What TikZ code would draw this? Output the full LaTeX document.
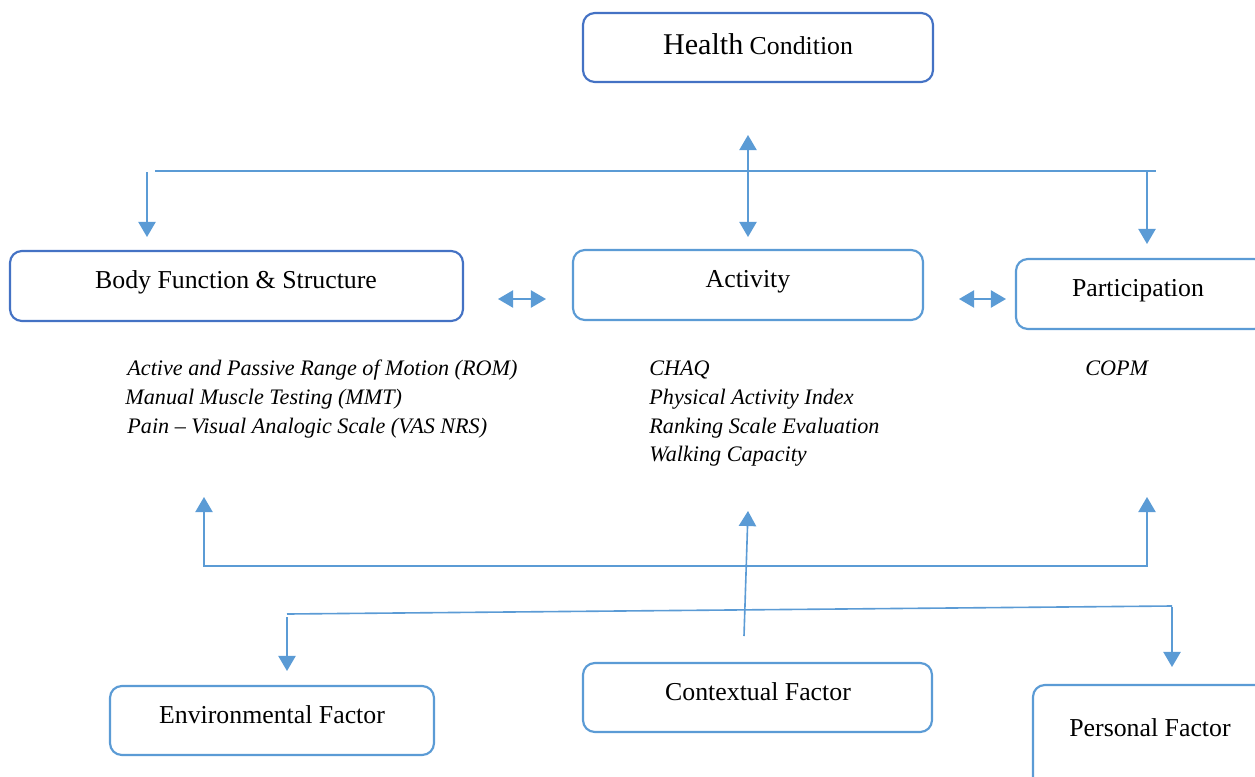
\documentclass[tikz,border=0pt]{standalone}
\usepackage{fontspec}
\setmainfont{Liberation Serif}
\usetikzlibrary{arrows.meta}
\definecolor{dblue}{HTML}{4472C4}
\definecolor{lblue}{HTML}{5B9BD5}
\begin{document}
\begin{tikzpicture}[x=0.465pt,y=-0.465pt,
  box/.style={draw=#1, rounded corners=5.5pt, line width=1pt, inner sep=0, fill=white},
  lbl/.style={font=\fontsize{12}{14}\selectfont, anchor=base, inner sep=0},
  meas/.style={font=\fontsize{10.3}{12}\selectfont\itshape, anchor=base west, inner sep=0},
  conn/.style={lblue, line width=0.75pt},
  tipend/.style={-{Triangle[width=8pt,length=7pt]}},
  tipboth/.style={{Triangle[width=8pt,length=7pt]}-{Triangle[width=8pt,length=7pt]}},
  ]
\useasboundingbox (0,0) rectangle (1255,776);

% boxes
\node[box=dblue, minimum width=350*0.465pt, minimum height=69*0.465pt] (hcbox) at (758,47.5) {};
\node[box=dblue, minimum width=453*0.465pt, minimum height=70*0.465pt] (bfbox) at (236.5,286) {};
\node[box=lblue, minimum width=350*0.465pt, minimum height=70*0.465pt] (acbox) at (748,285) {};
\node[box=lblue, minimum width=250*0.465pt, minimum height=70*0.465pt] (pabox) at (1141,294) {};
\node[box=lblue, minimum width=324*0.465pt, minimum height=69*0.465pt] (efbox) at (272,720.5) {};
\node[box=lblue, minimum width=349*0.465pt, minimum height=69*0.465pt] (ctbox) at (757.5,697.5) {};
\node[box=lblue, minimum width=240*0.465pt, minimum height=110*0.465pt] (pfbox) at (1153,740) {};

% box texts
\node[lbl] (hc) at (758,54) {{\fontsize{14}{16}\selectfont Health} Condition};
\node[lbl] (bf) at (236,288) {Body Function \& Structure};
\node[lbl] (ac) at (748,287) {Activity};
\node[lbl] (pa) at (1138,296) {Participation};
\node[lbl] (ef) at (272,723) {Environmental Factor};
\node[lbl] (ct) at (758,700) {Contextual Factor};
\node[lbl] (pf) at (1150,736) {Personal Factor};

% measures
\node[meas] (m1) at (127,375) {Active and Passive Range of Motion (ROM)};
\node[meas] (m2) at (125,404) {Manual Muscle Testing (MMT)};
\node[meas] (m3) at (127,433) {Pain -- Visual Analogic Scale (VAS NRS)};
\node[meas] (m4) at (649,375) {CHAQ};
\node[meas] (m5) at (649,404) {Physical Activity Index};
\node[meas] (m6) at (649,433) {Ranking Scale Evaluation};
\node[meas] (m7) at (649,461) {Walking Capacity};
\node[meas] (m8) at (1085,375) {COPM};

% top connectors
\coordinate (hcA) at (748,135);
\coordinate (acA) at (748,237);
\draw[conn, tipboth] (hcA) -- (acA);
\coordinate (tl) at (155,171);
\coordinate (tr) at (1156,171);
\draw[conn] (tl) -- (tr);
\coordinate (bfT) at (147,172);
\coordinate (bfA) at (147,237);
\draw[conn, tipend] (bfT) -- (bfA);
\coordinate (paT) at (1147,171);
\coordinate (paA) at (1147,244);
\draw[conn, tipend] (paT) -- (paA);

% side double arrows
\coordinate (d1a) at (498,299);
\coordinate (d1b) at (546,299);
\draw[conn, tipboth] (d1a) -- (d1b);
\coordinate (d2a) at (959,299);
\coordinate (d2b) at (1006,299);
\draw[conn, tipboth] (d2a) -- (d2b);

% bottom bracket
\coordinate (blA) at (204,497);
\coordinate (bl) at (204,566);
\coordinate (br) at (1147,566);
\coordinate (brA) at (1147,497);
\draw[conn, tipboth] (blA) -- (bl) -- (br) -- (brA);

% contextual up arrow
\coordinate (ctT) at (744,636);
\coordinate (ctA) at (748,511);
\draw[conn, tipend] (ctT) -- (ctA);

% factor line
\coordinate (fl) at (287,614);
\coordinate (fr) at (1172,606);
\draw[conn] (fl) -- (fr);
\coordinate (efT) at (287,617);
\coordinate (efA) at (287,671);
\draw[conn, tipend] (efT) -- (efA);
\coordinate (pfT) at (1172,607);
\coordinate (pfA) at (1172,667);
\draw[conn, tipend] (pfT) -- (pfA);
\end{tikzpicture}
\end{document}
